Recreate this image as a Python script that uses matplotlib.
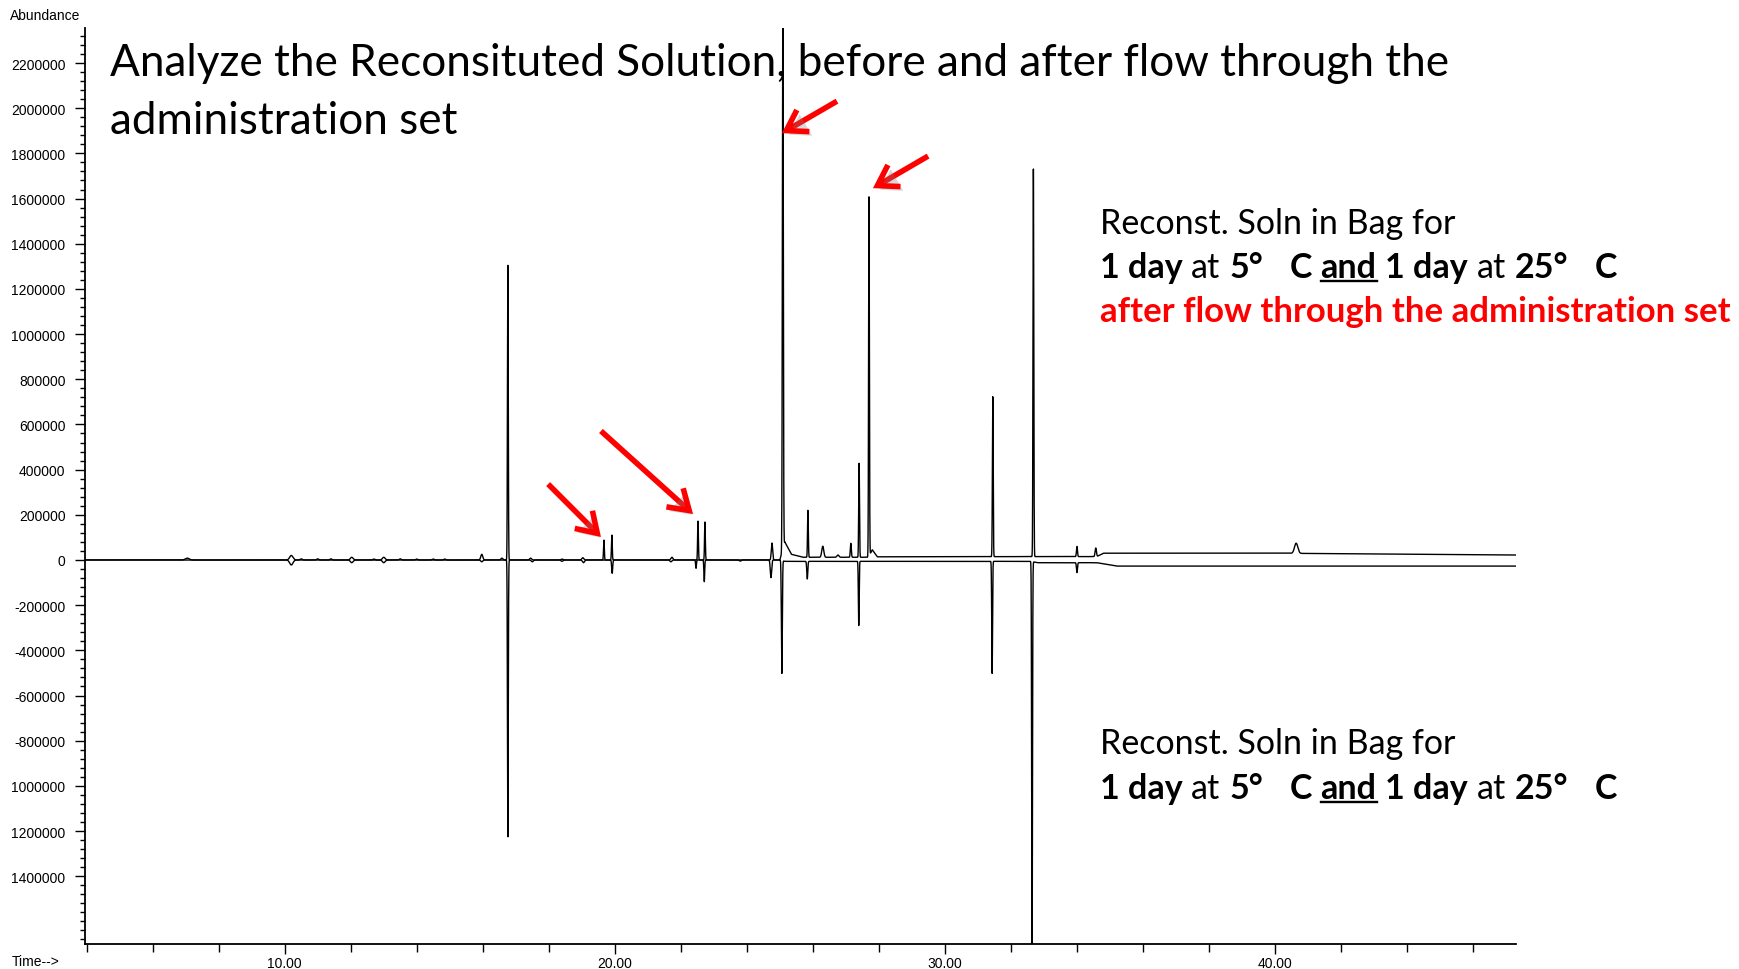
import numpy as np
import matplotlib
matplotlib.use("Agg")
import matplotlib.pyplot as plt
from matplotlib import patheffects
from matplotlib.ticker import MultipleLocator

W, H = 1739, 970

# peak tables for the two traces: retention time (min), height, width (min)
top_rt = [7.05, 10.2, 10.5, 11.0, 11.4, 12.03, 12.7, 13.0, 13.5, 14.0, 14.5, 14.85,
          15.97, 16.58, 16.76, 17.45, 18.4, 19.03, 19.67, 19.91, 21.73, 22.52, 22.73,
          24.76, 25.09, 25.85, 26.3, 26.76, 27.15, 27.4, 27.7, 31.45, 32.68,
          34.0, 34.57, 40.64]
top_height = [8000, 20000, 5000, 5000, 5000, 12000, 4000, 12000, 5000, 4000, 4000, 4000,
              25000, 8000, 1305000, 8000, 4000, 10000, 88000, 110000, 12000, 172000, 168000,
              75000, 2420000, 208000, 49000, 10000, 62000, 416000, 1590000, 708000, 1717000,
              45000, 38000, 45000]
top_width = [0.06, 0.05, 0.03, 0.03, 0.03, 0.04, 0.03, 0.04, 0.03, 0.03, 0.03, 0.03,
             0.03, 0.03, 0.012, 0.03, 0.03, 0.03, 0.012, 0.012, 0.03, 0.012, 0.012,
             0.02, 0.014, 0.012, 0.03, 0.03, 0.015, 0.012, 0.012, 0.012, 0.012,
             0.015, 0.02, 0.05]

bottom_rt = [10.2, 12.03, 13.0, 15.97, 16.76, 17.5, 18.4, 19.05, 19.92, 21.7, 22.46, 22.71,
             23.8, 24.73, 25.06, 25.83, 27.39, 31.43, 32.64, 34.0]
bottom_height = [-22000, -12000, -12000, -8000, -1226000, -8000, -6000, -12000, -59000,
                 -8000, -37000, -96000, -5000, -78000, -500000, -78000, -284000, -496000,
                 -1800000, -44000]
bottom_width = [0.05, 0.04, 0.04, 0.03, 0.012, 0.03, 0.03, 0.03, 0.015, 0.03, 0.012, 0.012,
                0.03, 0.02, 0.014, 0.015, 0.012, 0.012, 0.012, 0.015]

# baseline drift (time, level)
top_base_t = [3.95, 25.0, 25.15, 25.35, 25.7, 27.68, 27.8, 27.95, 32.6, 34.6, 34.8, 40.0, 47.3]
top_base_y = [0, 0, 80000, 25000, 12000, 12000, 45000, 14000, 15000, 15000, 30000, 30000, 22000]
bottom_base_t = [3.95, 25.0, 25.15, 32.6, 32.8, 34.6, 35.2, 47.3]
bottom_base_y = [0, 0, -6000, -6000, -12000, -12000, -27000, -27000]

ytick_vals = [2200000, 2000000, 1800000, 1600000, 1400000, 1200000, 1000000, 800000,
              600000, 400000, 200000, 0, -200000, -400000, -600000, -800000,
              -1000000, -1200000, -1400000]
ytick_text = ["2200000", "2000000", "1800000", "1600000", "1400000", "1200000", "1000000",
              "800000", "600000", "400000", "200000", "0", "-200000", "-400000", "-600000",
              "-800000", "1000000", "1200000", "1400000"]
xtick_vals = [10, 20, 30, 40]
xtick_text = ["10.00", "20.00", "30.00", "40.00"]

# red arrows: tail -> head in (min, abundance)
arrow_tail = [(26.73, 2031000), (29.49, 1788000), (19.58, 571000), (17.98, 336000)]
arrow_head = [(25.06, 1889500), (27.82, 1646000), (22.37, 203500), (19.58, 101800)]

time = np.linspace(3.95, 47.3, 26000)


def build_trace(rt, height, width, base_t, base_y):
    y = np.interp(time, base_t, base_y)
    for t0, h, w in zip(rt, height, width):
        y = y + h * np.exp(-0.5 * ((time - t0) / w) ** 2)
    return y


upper = build_trace(top_rt, top_height, top_width, top_base_t, top_base_y)
lower = build_trace(bottom_rt, bottom_height, bottom_width, bottom_base_t, bottom_base_y)

fig = plt.figure(figsize=(W / 100, H / 100), dpi=100)
ax = fig.add_axes([85 / W, 1 - 945 / H, (1516 - 85) / W, (945 - 29) / H])
ax.plot(time, upper, color="black", lw=1.0)
ax.plot(time, lower, color="black", lw=1.0)
ax.set_xlim(3.95, 47.3)
ax.set_ylim(-1700000, 2355000)

for side in ("top", "right"):
    ax.spines[side].set_visible(False)
for side in ("left", "bottom"):
    ax.spines[side].set_linewidth(1.3)

tick_font = "Liberation Sans"
ax.set_yticks(ytick_vals)
ax.set_yticklabels(ytick_text, fontfamily=tick_font, fontsize=10)
ax.yaxis.set_minor_locator(MultipleLocator(40000))
ax.set_xticks(xtick_vals)
ax.set_xticklabels(xtick_text, fontfamily=tick_font, fontsize=10)
ax.xaxis.set_minor_locator(MultipleLocator(2))
ax.tick_params(axis="y", which="major", length=7, width=1, pad=7)
ax.tick_params(axis="y", which="minor", length=3.5, width=1)
ax.tick_params(axis="x", which="major", length=7, width=1, pad=2)
ax.tick_params(axis="x", which="minor", length=6, width=1)

fig.text(10 / W, 1 - 16 / H, "Abundance", fontfamily=tick_font, fontsize=10,
         ha="left", va="center")
fig.text(12 / W, 1 - 962 / H, "Time-->", fontfamily=tick_font, fontsize=10,
         ha="left", va="center")

# arrows with a soft drop shadow
for (tx, ty), (hx, hy) in zip(arrow_tail, arrow_head):
    ax.annotate("", xy=(hx, hy), xytext=(tx, ty),
                arrowprops=dict(arrowstyle="->,head_length=0.7,head_width=0.45",
                                color="#ff0000", lw=4, shrinkA=0, shrinkB=0,
                                mutation_scale=20, joinstyle="miter", capstyle="butt",
                                path_effects=[patheffects.withSimplePatchShadow(
                                    offset=(2, -3), shadow_rgbFace="gray", alpha=0.3)]))

renderer = fig.canvas.get_renderer()
label_font = "Lato"


def text_width(s, size, weight="normal"):
    t = fig.text(0, 0, "|" + s + "|", fontsize=size, fontweight=weight, fontfamily=label_font)
    w1 = t.get_window_extent(renderer).width
    t.set_text("||")
    w0 = t.get_window_extent(renderer).width
    t.remove()
    return w1 - w0


def fit_size(s, target_px, weight="normal"):
    return 10 * target_px / text_width(s, 10, weight)


def put_runs(x_px, base_px, runs, size):
    x = x_px
    for s, weight, color, underline in runs:
        if s.strip():
            fig.text(x / W, 1 - base_px / H, s, fontsize=size, fontweight=weight,
                     color=color, fontfamily=label_font, ha="left", va="baseline")
        adv = text_width(s, size, weight)
        if underline:
            uy = 1 - (base_px + size * 0.17) / H
            fig.add_artist(plt.Line2D([x / W, (x + adv) / W], [uy, uy], color=color,
                                      lw=size * 0.07, transform=fig.transFigure))
        x += adv


title1 = "Analyze the Reconsituted Solution, before and after flow through the"
title2 = "administration set"
tsize = fit_size(title1, 1343)
fig.text(110 / W, 1 - 76 / H, title1, fontsize=tsize, fontfamily=label_font,
         ha="left", va="baseline")
fig.text(110 / W, 1 - 134 / H, title2, fontsize=tsize, fontfamily=label_font,
         ha="left", va="baseline")

head = "Reconst. Soln in Bag for"
red_line = "after flow through the administration set"
rsize = fit_size(head, 355)
red_size = fit_size(red_line, 632, "bold")
cond_runs = [("1 day", "bold", "black", False), (" ", "normal", "black", False),
             ("at", "normal", "black", False), (" ", "normal", "black", False),
             ("5°", "bold", "black", False), ("   ", "normal", "black", False),
             ("C", "bold", "black", False), (" ", "normal", "black", False),
             ("and", "bold", "black", True), (" ", "normal", "black", False),
             ("1 day", "bold", "black", False), (" ", "normal", "black", False),
             ("at", "normal", "black", False), (" ", "normal", "black", False),
             ("25°", "bold", "black", False), ("   ", "normal", "black", False),
             ("C", "bold", "black", False)]

put_runs(1100, 234, [(head, "normal", "black", False)], rsize)
put_runs(1100, 278, cond_runs, rsize)
put_runs(1100, 322, [(red_line, "bold", "#ff0000", False)], red_size)
put_runs(1100, 754, [(head, "normal", "black", False)], rsize)
put_runs(1100, 799, cond_runs, rsize)

fig.savefig("out.png", dpi=100)
